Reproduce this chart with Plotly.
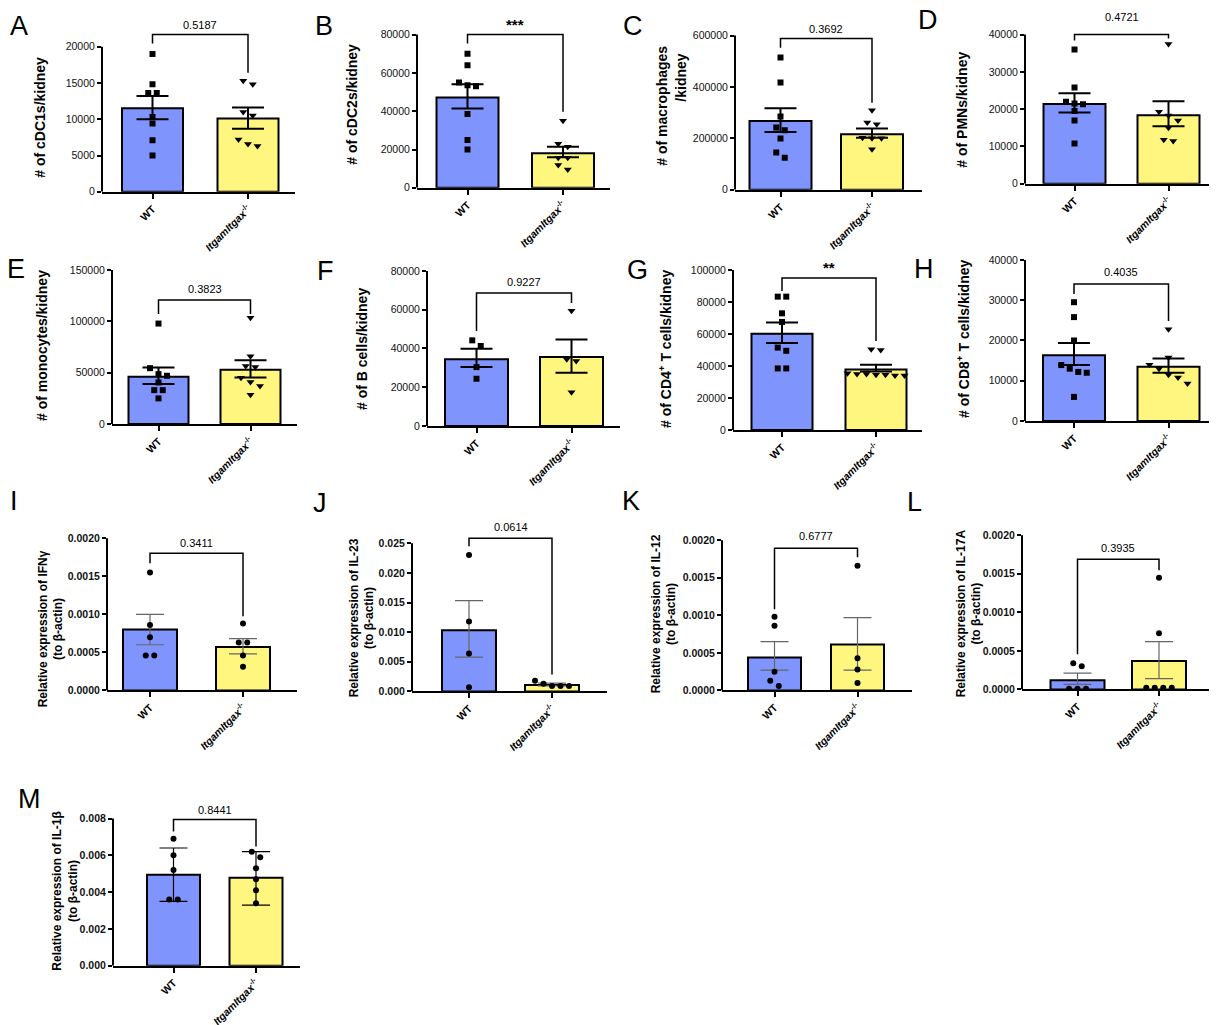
import plotly.graph_objects as go

W, H = 1217, 1025
OFF = 8          # default html body margin (px), compensated in positions
VA, VB = 2.5, 0.990  # measured vertical mapping of the photographed page
BLUE = "#7f95fd"
YELLOW = "#fff680"
FONT = "Liberation Sans, Arial, sans-serif"

GROUP_LABELS = ["<b>WT</b>", "<b><i>ItgamItgax</i><sup>-/-</sup></b>"]

# ---------------- data ----------------
# A: cDC1s / kidney
A_WT = [19000, 14800, 13600, 13600, 10300, 9400, 7100, 5000]
A_KO = [15300, 14800, 11000, 10500, 7200, 6600, 6300]
A_MEAN = [11500, 10100]
A_LO = [10000, 8700]
A_HI = [13200, 11600]
A_P = "0.5187"
A_TICKS = [0, 5000, 10000, 15000, 20000]

# B: cDC2s / kidney
B_WT = [70000, 64000, 55000, 53500, 53000, 38500, 25000, 20000]
B_KO = [35000, 23000, 21500, 15700, 15700, 11900, 9600]
B_MEAN = [47200, 18000]
B_LO = [41400, 16000]
B_HI = [54100, 21400]
B_P = "***"
B_TICKS = [0, 20000, 40000, 60000, 80000]

# C: macrophages / kidney
C_WT = [515000, 418000, 285000, 242000, 232000, 200000, 145000, 125000]
C_KO = [310000, 262000, 255000, 203000, 201000, 201000, 158000]
C_MEAN = [268000, 216000]
C_LO = [225000, 203000]
C_HI = [317000, 239000]
C_P = "0.3692"
C_TICKS = [0, 200000, 400000, 600000]

# D: PMNs / kidney
D_WT = [36000, 25800, 22000, 21500, 21300, 19500, 17000, 10800]
D_KO = [37500, 19300, 18300, 17000, 15000, 11800, 11500]
D_MEAN = [21400, 18400]
D_LO = [19100, 15400]
D_HI = [24300, 22100]
D_P = "0.4721"
D_TICKS = [0, 10000, 20000, 30000, 40000]

# E: monocytes / kidney
E_WT = [97800, 54400, 48600, 47000, 40500, 33000, 33000, 25000]
E_KO = [103500, 66000, 56500, 55500, 45000, 41000, 37000, 28500]
E_MEAN = [46000, 52800]
E_LO = [38900, 45400]
E_HI = [55100, 62200]
E_P = "0.3823"
E_TICKS = [0, 50000, 100000, 150000]

# F: B cells / kidney
F_WT = [44200, 41300, 30400, 24400]
F_KO = [59400, 34400, 33500, 17500]
F_MEAN = [34400, 35600]
F_LO = [30400, 27500]
F_HI = [39900, 44700]
F_P = "0.9227"
F_TICKS = [0, 20000, 40000, 60000, 80000]

# G: CD4+ T cells / kidney
G_WT = [83300, 83300, 72900, 67500, 51500, 49500, 38500, 38500]
G_KO = [50500, 50000, 35500, 35000, 35000, 34500, 34500, 34000, 34000]
G_MEAN = [60200, 37900]
G_LO = [54400, 36500]
G_HI = [67100, 40800]
G_P = "**"
G_TICKS = [0, 20000, 40000, 60000, 80000, 100000]

# H: CD8+ T cells / kidney
H_WT = [29500, 25800, 20000, 13900, 13000, 12200, 12000, 6000]
H_KO = [22800, 15800, 14000, 13000, 11500, 10800, 9300]
H_MEAN = [16350, 13500]
H_LO = [13900, 12000]
H_HI = [19400, 15500]
H_P = "0.4035"
H_TICKS = [0, 10000, 20000, 30000, 40000]

# I: IFN-gamma expression
I_WT = [0.00155, 0.00086, 0.00070, 0.00046, 0.00046]
I_KO = [0.00088, 0.00063, 0.00063, 0.00046, 0.00031]
I_MEAN = [0.00080, 0.00057]
I_LO = [0.00060, 0.00048]
I_HI = [0.00100, 0.00068]
I_P = "0.3411"
I_TICKS = [0, 0.0005, 0.0010, 0.0015, 0.0020]
I_TICKTEXT = ["0.0000", "0.0005", "0.0010", "0.0015", "0.0020"]

# J: IL-23 expression
J_WT = [0.0230, 0.0118, 0.0064, 0.0007]
J_KO = [0.0018, 0.0013, 0.0009, 0.0009, 0.0009]
J_MEAN = [0.0103, 0.0011]
J_LO = [0.0058, 0.00095]
J_HI = [0.0153, 0.0014]
J_P = "0.0614"
J_TICKS = [0, 0.005, 0.010, 0.015, 0.020, 0.025]
J_TICKTEXT = ["0.000", "0.005", "0.010", "0.015", "0.020", "0.025"]

# K: IL-12 expression
K_WT = [0.00098, 0.00086, 0.00025, 0.00013, 0.00006]
K_KO = [0.00166, 0.00043, 0.00028, 0.00010]
K_MEAN = [0.00044, 0.00061]
K_LO = [0.00027, 0.00027]
K_HI = [0.00065, 0.00097]
K_P = "0.6777"
K_TICKS = [0, 0.0005, 0.0010, 0.0015, 0.0020]
K_TICKTEXT = ["0.0000", "0.0005", "0.0010", "0.0015", "0.0020"]

# L: IL-17A expression
L_WT = [0.00034, 0.00030, 0.00001, 0.00001, 0.00001]
L_KO = [0.00145, 0.00073, 0.00002, 0.00002, 0.00002, 0.00002]
L_MEAN = [0.00012, 0.00037]
L_LO = [0.000065, 0.00014]
L_HI = [0.00021, 0.00062]
L_P = "0.3935"
L_TICKS = [0, 0.0005, 0.0010, 0.0015, 0.0020]
L_TICKTEXT = ["0.0000", "0.0005", "0.0010", "0.0015", "0.0020"]

# M: IL-1beta expression
M_WT = [0.0069, 0.0060, 0.0052, 0.0036, 0.0036]
M_KO = [0.0062, 0.0059, 0.0053, 0.0047, 0.0041, 0.0034]
M_MEAN = [0.00495, 0.00479]
M_LO = [0.0035, 0.0033]
M_HI = [0.0064, 0.0062]
M_P = "0.8441"
M_TICKS = [0, 0.002, 0.004, 0.006, 0.008]
M_TICKTEXT = ["0.000", "0.002", "0.004", "0.006", "0.008"]

TITLES = {
    "A": ["# of cDC1s/kidney"],
    "B": ["# of cDC2s/kidney"],
    "C": ["# of macrophages", "/kidney"],
    "D": ["# of PMNs/kidney"],
    "E": ["# of monocytes/kidney"],
    "F": ["# of B cells/kidney"],
    "G": ["# of CD4<sup>+</sup> T cells/kidney"],
    "H": ["# of CD8<sup>+</sup> T cells/kidney"],
    "I": ["Relative expression of IFNγ<br>(to β-actin)"],
    "J": ["Relative expression of IL-23<br>(to β-actin)"],
    "K": ["Relative expression of IL-12<br>(to β-actin)"],
    "L": ["Relative expression of IL-17A<br>(to β-actin)"],
    "M": ["Relative expression of IL-1β<br>(to β-actin)"],
}

DATA = {
    "A": (A_WT, A_KO, A_MEAN, A_LO, A_HI, A_P, A_TICKS, [str(t) for t in A_TICKS]),
    "B": (B_WT, B_KO, B_MEAN, B_LO, B_HI, B_P, B_TICKS, [str(t) for t in B_TICKS]),
    "C": (C_WT, C_KO, C_MEAN, C_LO, C_HI, C_P, C_TICKS, [str(t) for t in C_TICKS]),
    "D": (D_WT, D_KO, D_MEAN, D_LO, D_HI, D_P, D_TICKS, [str(t) for t in D_TICKS]),
    "E": (E_WT, E_KO, E_MEAN, E_LO, E_HI, E_P, E_TICKS, [str(t) for t in E_TICKS]),
    "F": (F_WT, F_KO, F_MEAN, F_LO, F_HI, F_P, F_TICKS, [str(t) for t in F_TICKS]),
    "G": (G_WT, G_KO, G_MEAN, G_LO, G_HI, G_P, G_TICKS, [str(t) for t in G_TICKS]),
    "H": (H_WT, H_KO, H_MEAN, H_LO, H_HI, H_P, H_TICKS, [str(t) for t in H_TICKS]),
    "I": (I_WT, I_KO, I_MEAN, I_LO, I_HI, I_P, I_TICKS, I_TICKTEXT),
    "J": (J_WT, J_KO, J_MEAN, J_LO, J_HI, J_P, J_TICKS, J_TICKTEXT),
    "K": (K_WT, K_KO, K_MEAN, K_LO, K_HI, K_P, K_TICKS, K_TICKTEXT),
    "L": (L_WT, L_KO, L_MEAN, L_LO, L_HI, L_P, L_TICKS, L_TICKTEXT),
    "M": (M_WT, M_KO, M_MEAN, M_LO, M_HI, M_P, M_TICKS, M_TICKTEXT),
}

# ---------------- layout (pixel geometry of each panel, picture coords) ----------------
GEOM = {
    "A": dict(left=102, right=295, c0=152.5, c1=248, bw=61, top=46, zero=191, brk=(34, 43, 72), ptxt=24, letter=(19, 25), title=[(40, 117)]),
    "B": dict(left=417, right=610, c0=467.5, c1=563, bw=62, top=34, zero=187, brk=(34, 43, 111), ptxt=24, letter=(324, 25), title=[(352, 104)]),
    "C": dict(left=735, right=922, c0=780.5, c1=872, bw=62, top=35, zero=189, brk=(38, 47, 102), ptxt=28, letter=(633, 25), title=[(662, 105), (681, 77)]),
    "D": dict(left=1025, right=1215, c0=1074.5, c1=1168.5, bw=62, top=34, zero=183, brk=(34, 40, 38), ptxt=16, letter=(928, 19), title=[(962, 109)]),
    "E": dict(left=112, right=297, c0=158.5, c1=250.5, bw=60, top=269, zero=423, brk=(299, 313, 313), ptxt=288, letter=(16, 268), title=[(42, 345)]),
    "F": dict(left=427, right=620, c0=476.5, c1=571.5, bw=63, top=270, zero=425, brk=(292, 330, 302), ptxt=281, letter=(325, 270), title=[(362, 348)]),
    "G": dict(left=733, right=922, c0=782, c1=876, bw=61, top=269, zero=429, brk=(277, 290, 340), ptxt=267, letter=(637, 269), title=[(665, 348)]),
    "H": dict(left=1025, right=1215, c0=1074, c1=1168.5, bw=62, top=259, zero=420, brk=(283, 293, 320), ptxt=271, letter=(924, 268), title=[(963, 338)]),
    "I": dict(left=107, right=297, c0=150, c1=243, bw=54, top=537, zero=689, brk=(552, 562, 615), ptxt=542, letter=(14, 500), title=[(51, 628)]),
    "J": dict(left=412, right=607, c0=469, c1=552, bw=54, top=542, zero=690, brk=(537, 545, 673), ptxt=526, letter=(320, 502), title=[(362, 617)]),
    "K": dict(left=722, right=912, c0=774.5, c1=857.5, bw=53, top=539, zero=689, brk=(547, 608, 556), ptxt=535, letter=(631, 500), title=[(664, 613)]),
    "L": dict(left=1022, right=1214, c0=1077.5, c1=1159, bw=54, top=534, zero=688, brk=(558, 653, 569), ptxt=547, letter=(914, 501), title=[(969, 612)]),
    "M": dict(left=113, right=300, c0=173.5, c1=256, bw=53, top=817, zero=964, brk=(818, 830, 845), ptxt=808, letter=(29, 797), title=[(65, 890)]),
}

COUNT_PANELS = "ABCDEFGH"


def px_x(x):
    return (x - OFF) / W


def win_y(y):
    return (y - VA) / VB


def px_y(y):
    return 1 - (win_y(y) - OFF) / H


def swarm(vals, px_per_val, size_px, gap):
    order = sorted(range(len(vals)), key=lambda i: -vals[i])
    clusters, cur = [], [order[0]]
    for i in order[1:]:
        if abs(vals[cur[-1]] - vals[i]) * px_per_val < size_px:
            cur.append(i)
        else:
            clusters.append(cur)
            cur = [i]
    clusters.append(cur)
    offs = [0.0] * len(vals)
    for c in clusters:
        n = len(c)
        for k, i in enumerate(c):
            offs[i] = (k - (n - 1) / 2) * gap
    return offs


fig = go.Figure()
layout = dict(
    width=W, height=H, margin=dict(l=0, r=0, t=0, b=0),
    paper_bgcolor="white", plot_bgcolor="white", showlegend=False,
    font=dict(family=FONT, color="black"),
)
shapes, annotations = [], []

for n, key in enumerate("ABCDEFGHIJKLM", start=1):
    g = GEOM[key]
    wt, ko, mean, lo, hi, ptxt, ticks, ticktext = DATA[key]
    count = key in COUNT_PANELS
    xa = "x" if n == 1 else f"x{n}"
    ya = "y" if n == 1 else f"y{n}"
    xname = "xaxis" if n == 1 else f"xaxis{n}"
    yname = "yaxis" if n == 1 else f"yaxis{n}"

    unit = g["c1"] - g["c0"]
    xmin = -(g["c0"] - g["left"]) / unit
    xmax = 1 + (g["right"] - g["c1"]) / unit
    T = ticks[-1]
    ppv = (g["zero"] - g["top"]) / T
    plot_top = min(g["brk"][0], g["top"]) - 3
    ymax = (g["zero"] - plot_top) / ppv

    def val(px):
        return (g["zero"] - px) / ppv

    layout[xname] = dict(
        domain=[px_x(g["left"]), px_x(g["right"])], range=[xmin, xmax], anchor=ya,
        tickmode="array", tickvals=[0, 1], ticktext=GROUP_LABELS, tickangle=-45,
        showline=True, linewidth=2, linecolor="black", ticks="outside", ticklen=5,
        tickwidth=1.5, tickcolor="black", showgrid=False, zeroline=False,
        tickfont=dict(size=10.5, family=FONT, color="black"),
    )
    layout[yname] = dict(
        domain=[px_y(g["zero"]), px_y(plot_top)], range=[0, ymax], anchor=xa,
        tickmode="array", tickvals=ticks,
        ticktext=ticktext if count else [f"<b>{t}</b>" for t in ticktext],
        showline=False, ticks="outside", ticklen=4, tickwidth=1.5, tickcolor="black",
        showgrid=False, zeroline=False,
        tickfont=dict(size=10.5, family=FONT, color="#111"),
    )

    if count:
        ecol, eth, ewid = "black", 2, 16
        syms = ["square", "triangle-down"]
        sizes = [6, 7]
    else:
        ecol = "black" if key == "M" else "#666666"
        eth, ewid = 1.2, 14
        syms = ["circle", "circle"]
        sizes = [6, 6]

    fig.add_trace(go.Bar(
        x=[0, 1], y=mean, width=g["bw"] / unit, xaxis=xa, yaxis=ya,
        marker=dict(color=[BLUE, YELLOW], line=dict(color="black", width=2)),
        error_y=dict(type="data", symmetric=False,
                     array=[hi[i] - mean[i] for i in range(2)],
                     arrayminus=[mean[i] - lo[i] for i in range(2)],
                     color=ecol, thickness=eth, width=ewid),
    ))

    for gi, vals in enumerate([wt, ko]):
        offs = swarm(vals, ppv, sizes[gi], sizes[gi] + 2.5)
        fig.add_trace(go.Scatter(
            x=[gi + o / unit for o in offs], y=vals, mode="markers",
            xaxis=xa, yaxis=ya,
            marker=dict(symbol=syms[gi], size=sizes[gi], color="black", line=dict(width=0)),
        ))

    # y axis line (only up to top tick)
    shapes.append(dict(type="line", xref=f"{xa} domain", yref=ya, x0=0, x1=0, y0=0, y1=T,
                       line=dict(color="black", width=2)))
    # significance bracket
    bt, bl, br = g["brk"]
    shapes.append(dict(type="path", xref=xa, yref=ya,
                       path=f"M 0,{val(bl)} L 0,{val(bt)} L 1,{val(bt)} L 1,{val(br)}",
                       line=dict(color="black", width=1.5)))
    star = ptxt.startswith("*")
    annotations.append(dict(
        xref=xa, yref="paper", x=0.5, y=px_y(g["ptxt"]), text=f"<b>{ptxt}</b>" if star else ptxt,
        showarrow=False, xanchor="center", yanchor="middle",
        font=dict(size=15 if star else 11, family=FONT, color="black"),
    ))
    # panel letter
    annotations.append(dict(
        xref="paper", yref="paper", x=px_x(g["letter"][0]), y=px_y(g["letter"][1]),
        text=key, showarrow=False, xanchor="center", yanchor="middle",
        font=dict(size=27, family=FONT, color="black"),
    ))
    # y title (one annotation per separately placed line)
    for line_text, (tx, ty) in zip(TITLES[key], g["title"]):
        annotations.append(dict(
            xref="paper", yref="paper", x=px_x(tx), y=px_y(ty),
            text=f"<b>{line_text}</b>", showarrow=False, textangle=-90,
            xanchor="center", yanchor="middle",
            font=dict(size=14 if count else 12, family=FONT, color="black"),
        ))

layout["shapes"] = shapes
layout["annotations"] = annotations
fig.update_layout(**layout)
fig.write_html("out.html")
